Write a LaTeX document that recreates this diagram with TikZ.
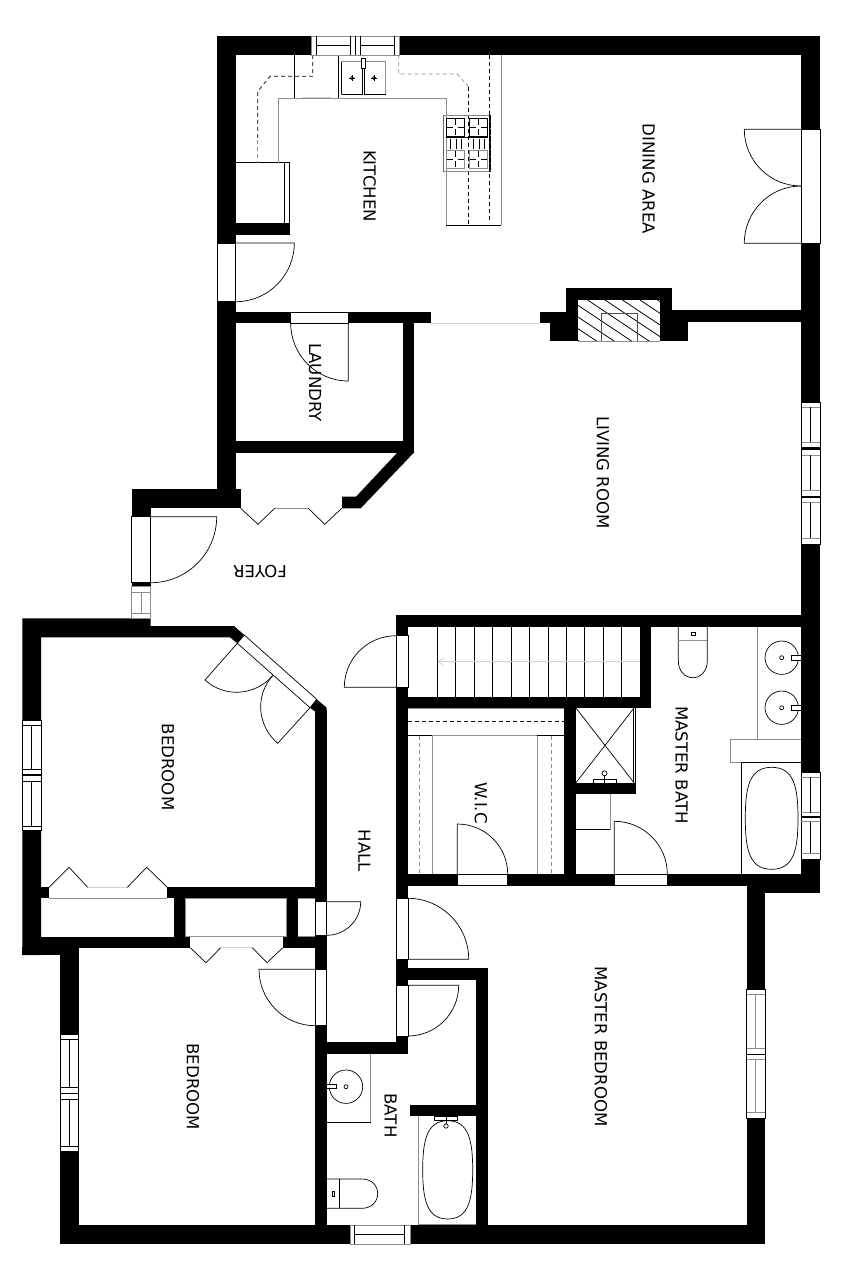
\documentclass[tikz,border=0pt]{standalone}
\usepackage{fontspec}
\setmainfont{DejaVu Sans}
\usetikzlibrary{arrows.meta}
\tikzset{
  lbl/.style={font=\fontsize{16.6}{16.6}\selectfont,inner sep=0pt,text=black},
  thin line/.style={draw=black,line width=0.7pt},
  grey line/.style={draw=black!45,line width=0.7pt},
  pale line/.style={draw=black!18,line width=0.7pt},
  opening/.style={fill=white,draw=black,line width=0.7pt},
  gap/.style={fill=white,draw=none},
  dash line/.style={draw=black,line width=0.7pt,dash pattern=on 4pt off 3pt},
  gdash line/.style={draw=black!45,line width=0.7pt,dash pattern=on 4pt off 3pt},
}
\newcommand\wl[4]{\fill[black] (#1,#2) rectangle (#3,#4);}
\newcommand\swing[6]{%
  \pgfmathsetmacro\ax{#3+0.5523*(#5-#1)}\pgfmathsetmacro\ay{#4+0.5523*(#6-#2)}%
  \pgfmathsetmacro\bx{#5+0.5523*(#3-#1)}\pgfmathsetmacro\by{#6+0.5523*(#4-#2)}%
  \draw[thin line] (#1,#2) -- (#3,#4) .. controls (\ax,\ay) and (\bx,\by) .. (#5,#6);}
\newcommand\tubshape[4]{%
  \pgfmathsetmacro\xm{(#1+#3)/2}\pgfmathsetmacro\ym{(#2+#4)/2}%
  \pgfmathsetmacro\xa{#3-4}\pgfmathsetmacro\xb{#1+4}\pgfmathsetmacro\ya{#2+20}\pgfmathsetmacro\yb{#4-20}%
  \draw[thin line] (\xm,#2) .. controls (\xa,#2) and (#3,\ya) .. (#3,\ym)
    .. controls (#3,\yb) and (\xa,#4) .. (\xm,#4)
    .. controls (\xb,#4) and (#1,\yb) .. (#1,\ym)
    .. controls (#1,\ya) and (\xb,#2) .. (\xm,#2);}
\newcommand\burner[3]{%
  \draw[#3] (#1,#2) rectangle ++(18.4,18);
  \draw[thin line] (#1+1,#2+9) -- ++(6,0) (#1+11.4,#2+9) -- ++(6,0)
    (#1+9.2,#2+1) -- ++(0,6) (#1+9.2,#2+11) -- ++(0,6);}
\begin{document}
\begin{tikzpicture}[x=1pt,y=-1pt]
\useasboundingbox (0,0) rectangle (853,1280);
\fill[white] (0,0) rectangle (853,1280);

% ---- outer and inner walls
\wl{217}{36}{820}{55}
\wl{217}{36}{235.7}{243}
\wl{235}{223.3}{290}{235}
\wl{217}{301.7}{235.7}{508.3}
\wl{235}{312}{431}{323.3}
\wl{403.3}{312}{414.3}{452.7}
\wl{235}{441}{414.3}{452.7}
\wl{131.7}{489.3}{240.7}{508.3}
\wl{131.7}{489.3}{150.7}{516.7}
\wl{131.7}{582.7}{150.7}{586.7}
\fill[black] (397.7,452.2) -- (414.3,452.2) -- (360.7,508.3) -- (341.7,508.3) -- (341.7,496.7) -- (356,496.7) -- cycle;
% right wall and fireplace
\wl{801}{36}{820}{893.3}
\wl{566}{287.7}{672}{300}
\wl{566}{287.7}{578}{341}
\wl{660}{287.7}{672}{341}
\wl{660}{310}{801.5}{321.7}
\wl{660}{321}{687.7}{341}
\wl{549.7}{323}{578}{341}
\wl{539.7}{312}{566}{323.3}
% bedroom 1
\fill[black] (22.3,618.3) -- (150.7,618.3) -- (150.7,626) -- (234,626) -- (244.3,635) -- (237.3,643.3) -- (230,637.3) -- (41,637.3) -- (41,955) -- (22.3,955) -- cycle;
\fill[black] (316.7,699.3) -- (326.7,707.7) -- (326.7,720) -- (315.3,720) -- (315.3,711.7) -- (310,707.7) -- cycle;
\wl{315.3}{710}{326.7}{1225.5}
\wl{41}{887.3}{49}{898.3}
\wl{167.3}{887.3}{326.7}{898.3}
\wl{174}{898}{185.7}{937}
\wl{286.7}{898}{298}{937}
\wl{41}{936.7}{190.3}{947.7}
\wl{282.7}{936.7}{326.7}{947.7}
\wl{22.3}{947}{78.7}{955}
\wl{60}{947}{78.7}{1244}
\wl{60}{1225}{765}{1244}
\wl{746.7}{885}{765}{1244}
\wl{746.7}{885}{820}{893.3}
% central walls
\wl{396}{615}{820}{626.7}
\wl{396}{615}{408}{1053.7}
\wl{396}{696.7}{651}{708}
\wl{640}{626}{651}{708}
\wl{396}{874}{820}{885.7}
\wl{564.3}{708}{576}{885}
\wl{576}{782.7}{636.3}{794}
\wl{408}{968.3}{487.7}{980}
\wl{476.3}{968.3}{487.7}{1244}
\wl{326.7}{1042.3}{408}{1053.7}
\wl{410}{1105}{487.7}{1116.3}

% ---- fireplace hatch
\begin{scope}
\clip (578,300) rectangle (660,341);
\foreach \k in {0,...,8} {
  \draw[thin line] (517.5+\k*17.5,300) -- ++(90,60);
}
\end{scope}
\draw[draw=black!70,line width=1pt] (601.7,341) -- (601.7,313.3) -- (637.7,313.3) -- (637.7,341);
\draw[grey line] (578,341) -- (660,341);

% ---- door and window openings
% kitchen side door
\draw[opening] (217,243) rectangle (235.7,301.7);
\swing{235.7}{243}{294.3}{243}{235.7}{301.7}
% kitchen opening to living
\fill[white] (431,312) rectangle (539.7,323.3);
\draw[pale line] (431,323.3) -- (539.7,323.3);
% laundry door
\draw[opening] (290.7,312) rectangle (348.3,323.3);
\swing{348.3}{323.3}{348.3}{381}{290.7}{323.3}
% foyer doors
\draw[opening] (131.7,516.7) rectangle (150.7,582.7);
\swing{150.7}{516.7}{216.7}{516.7}{150.7}{582.7}
\fill[white] (240.7,496.7) rectangle (341.7,508.3);
\draw[thin line] (240.7,508.3) -- (258,524.3) -- (274.7,508.3);
\draw[grey line] (274.7,508.3) -- (308.3,508.3);
\draw[thin line] (308.3,508.3) -- (324.7,524.3) -- (341.7,508.3);
% foyer side window
\draw[grey line,fill=white] (131.7,586.7) rectangle (150.7,618.3);
\draw[grey line] (131.7,592.3) -- (150.7,592.3) (131.7,613.3) -- (150.7,613.3) (141.3,592.3) -- (141.3,613.3);
% french door dining
\draw[opening] (801,129.3) rectangle (820,243.3);
\swing{801}{129.3}{744.3}{129.3}{801}{186}
\swing{801}{243.3}{744.3}{243.3}{801}{186}
% right windows
\draw[opening] (801.7,402) rectangle (820,544);
\wl{801.7}{447}{820}{449.5}
\wl{801.7}{495.5}{820}{498}
\draw[grey line] (801.7,407) -- (820,407) (801.7,442.3) -- (820,442.3) (801.7,455) -- (820,455) (801.7,490) -- (820,490) (801.7,502.7) -- (820,502.7) (801.7,538.3) -- (820,538.3);
\draw[thin line] (810.7,407) -- (810.7,442.3) (810.7,455) -- (810.7,490) (810.7,502.7) -- (810.7,538.3);
% master bath window
\draw[opening] (801,772.3) rectangle (820,859);
\wl{801}{815.7}{820}{817.7}
\draw[grey line] (801,777.3) -- (820,777.3) (801,812.7) -- (820,812.7) (801,821.7) -- (820,821.7) (801,853.3) -- (820,853.3);
\draw[thin line] (810.3,777.3) -- (810.3,812.7) (810.3,821.7) -- (810.3,853.3);
% master bedroom window
\draw[opening] (746.7,989) rectangle (765,1118);
\draw[grey line] (746.7,994) -- (765,994) (746.7,1048.3) -- (765,1048.3) (746.7,1059.3) -- (765,1059.3) (746.7,1112.7) -- (765,1112.7) (755.7,994) -- (755.7,1048.3) (755.7,1059.3) -- (755.7,1112.7);
\draw[draw=black,line width=1pt] (746.7,1054.3) -- (765,1054.3);
% bedroom 2 window
\draw[opening] (60,1034.3) rectangle (78.7,1151.7);
\draw[thin line] (60,1039.3) -- (78.7,1039.3) (60,1087.3) -- (78.7,1087.3) (60,1099.3) -- (78.7,1099.3) (60,1146.3) -- (78.7,1146.3) (69.3,1039.3) -- (69.3,1087.3) (69.3,1099.3) -- (69.3,1146.3);
\draw[draw=black,line width=1pt] (60,1093) -- (78.7,1093);
% bedroom 1 window
\draw[opening] (22.3,720) rectangle (41,830.7);
\draw[thin line] (22.3,725) -- (41,725) (22.3,769.3) -- (41,769.3) (22.3,781) -- (41,781) (22.3,826.7) -- (41,826.7) (31.7,725) -- (31.7,769.3) (31.7,781) -- (31.7,826.7);
\draw[draw=black,line width=1.2pt] (22.3,775) -- (41,775);
% bath window bottom
\draw[grey line,fill=white] (350,1225) rectangle (410,1244);
\draw[thin line] (354.7,1225) -- (354.7,1244) (404,1225) -- (404,1244) (354.7,1234) -- (404,1234);
% bedroom 1 diagonal double door
\draw[opening] (244.3,635) -- (316.7,699.3) -- (310,707.7) -- (237.3,643.3) -- cycle;
\swing{237.3}{643.3}{205}{680}{272.7}{675.7}
\swing{310}{707.7}{277.7}{743.3}{272.7}{675.7}
% bedroom 1 closet fold door
\fill[white] (49,887.3) rectangle (167.3,898.3);
\draw[grey line] (49,898.3) -- (167.3,898.3);
\draw[thin line] (49,887.3) -- (69,867.3) -- (87.7,887.3);
\draw[pale line] (87.7,887.3) -- (127.3,887.3);
\draw[thin line] (127.3,887.3) -- (146.7,867.3) -- (167.3,887.3);
% bedroom 2 closet fold door
\fill[white] (190.3,936.7) rectangle (282.7,947.7);
\draw[grey line] (190.3,936.7) -- (282.7,936.7);
\draw[thin line] (190.3,947.7) -- (206,962.7) -- (220.7,947.7);
\draw[pale line] (220.7,947.7) -- (252.3,947.7);
\draw[thin line] (252.3,947.7) -- (267,962.7) -- (282.7,947.7);
\draw[grey line] (185.7,898.3) rectangle (286.7,936.7);
\draw[grey line] (298,898.3) -- (315.3,898.3) (298,936.7) -- (315.3,936.7);
% hall doors
\draw[opening] (315.3,901.7) rectangle (326.7,935.3);
\swing{326.7}{901.7}{360.7}{901.7}{326.7}{935.3}
\draw[opening] (315.3,969.3) rectangle (326.7,1025.7);
\swing{315.3}{969.3}{259}{969.3}{315.3}{1025.7}
\draw[opening] (396,635.7) rectangle (408,687.3);
\swing{396}{687.3}{344.3}{687.3}{396}{635.7}
\draw[opening] (396.7,898.3) rectangle (408,959.3);
\swing{408}{959.3}{468.7}{959.3}{408}{898.3}
\draw[opening] (396.7,985.3) rectangle (408,1036);
\swing{408}{985.3}{458.7}{985.3}{408}{1036}
% WIC and master bath doors
\draw[opening] (457.3,874) rectangle (507.7,885.7);
\swing{457.3}{874}{457.3}{824}{507.7}{874}
\draw[opening] (614.3,874) rectangle (667.3,885.7);
\swing{614.3}{874}{614.3}{821.3}{667.3}{874}

% ---- kitchen fittings
\draw[grey line] (235.7,162.7) -- (278.3,162.7);
\draw[thin line] (284,162.7) rectangle (289,223.3);
\draw[thin line] (235.7,162.7) -- (284,162.7);
\draw[grey line] (278.3,162.7) -- (278.3,98.3) -- (446,98.3);
\draw[grey line] (446,98.3) -- (446,225.3);
\draw[thin line] (446,225.3) -- (501,225.3);
\draw[grey line] (501,225.3) -- (501,55);
\draw[thin line] (294.3,55) -- (294.3,98.3) (338.3,55) -- (338.3,98.3);
\draw[pale line] (302,97.5) -- (331,97.5);
\draw[grey line] (341.7,61.7) rectangle (362.3,94.3);
\draw[grey line] (364.3,61.7) rectangle (385.7,94.3);
\draw[thin line] (341.7,94.3) -- (362.3,94.3) -- (362.3,61.7) (341.7,61.7) -- (341.7,94.3) (364.3,61.7) -- (364.3,94.3) -- (385.7,94.3);
\draw[thin line,fill=white] (361.6,58) rectangle (365.7,68.7);
\foreach \dx in {352,374} {
  \draw[thin line] (\dx,78) circle (1.6);
  \draw[draw=black,line width=0.5pt] (\dx-2.6,78) -- (\dx+2.6,78) (\dx,75.4) -- (\dx,80.6);
}
\draw[dash line] (312.7,55) -- (312.7,76.3) -- (270,76.3) -- (257.7,91.5) -- (257.7,140);
\draw[gdash line] (257.7,140) -- (257.7,163);
\draw[gdash line] (398.7,55) -- (398.7,74) -- (457.3,74) -- (468.3,86.5);
\draw[dash line] (468.3,86.5) -- (468.3,225.3);
\draw[dash line] (489.5,55) -- (489.5,222);
% windows kitchen top
\draw[grey line,fill=white] (311.5,36) rectangle (399.3,55);
\draw[thin line] (316.7,36) -- (316.7,55) (350,36) -- (350,55) (355.3,36) -- (355.3,55) (360,36) -- (360,55) (394,36) -- (394,55) (316.7,45.7) -- (350,45.7) (360,45.7) -- (394,45.7);
% range
\draw[grey line] (443.7,115.3) rectangle (490,171.7);
\draw[draw=black!60,line width=1.5pt] (443.7,115.3) -- (443.7,171.7);
\draw[draw=black,line width=1.2pt,dash pattern=on 6pt off 1pt] (490,115.3) -- (490,171.7);
\burner{446.3}{118.3}{thin line}
\burner{469.3}{118.3}{thin line}
\burner{446.3}{150}{grey line}
\burner{469.3}{150}{grey line}
\draw[thin line] (446.3,137) -- (487.7,137)
  (450,139) -- (450,149) (456,139) -- (456,149) (461,139) -- (461,149)
  (473,139) -- (473,149) (479,139) -- (479,149) (484,139) -- (484,149);

% ---- stairs
\foreach \sx in {437.3,455.7,474.3,492.3,511,529.3,548,566.7,584.3,603.3,621.7} {
  \draw[thin line] (\sx,626.7) -- (\sx,696.7);
}
\draw[pale line,-{Straight Barb[length=6pt,width=8pt]}] (640,661.7) -- (437.5,661.7);

% ---- walk-in closet
\draw[grey line] (408,708) -- (564.3,708);
\draw[thin line] (408,735.7) -- (432.3,735.7);
\draw[grey line] (432.3,735.7) -- (537.3,735.7);
\draw[thin line] (537.3,735.7) -- (564.3,735.7) -- (564.3,708);
\draw[dash line] (408,721.3) -- (564.3,721.3);
\draw[grey line] (432.3,735.7) -- (432.3,874) (537.3,735.7) -- (537.3,874);
\draw[gdash line] (419.3,735.7) -- (419.3,874);
\draw[gdash line] (551.3,735.7) -- (551.3,874);

% ---- master bath
\draw[thin line] (576,708) -- (634,782.7) (634,708) -- (576,782.7);
\draw[thin line] (633.7,708) -- (633.7,782.7) (635.7,708) -- (635.7,782.7);
\draw[thin line] (593.7,782.7) -- (593.7,779.3) -- (616.7,779.3) -- (616.7,782.7);
\draw[thin line,fill=white] (604.5,773.3) circle (2.5);
\draw[thin line] (604.5,776) -- (604.5,782.7);
\draw[grey line] (576,829.3) -- (610.3,829.3) -- (610.3,794);
\draw[thin line] (576,829.3) -- (610,829.3);
% toilet
\draw[thin line] (678.3,626.7) -- (678.3,661) .. controls (678.3,671) and (685,677.7) .. (692.8,677.7) .. controls (700.6,677.7) and (707.3,671) .. (707.3,661) -- (707.3,626.7);
\draw[grey line] (678.3,640) -- (707.3,640);
\draw[thin line] (691.7,632) rectangle (695,635);
% vanity
\draw[grey line] (757.3,626.7) -- (757.3,739);
\draw[thin line] (781.7,657.7) circle (16.7) (781.7,707.7) circle (16.7);
\draw[thin line] (781.7,657.7) circle (2) (781.7,707.7) circle (2);
\draw[thin line,fill=white] (791.7,655.7) rectangle (801,660.3);
\draw[thin line,fill=white] (791.7,705.7) rectangle (801,710.3);
\draw[grey line] (801,739) -- (730.3,739) -- (730.3,762.3) -- (801,762.3);
% tub
\draw[thin line] (801,762.3) -- (741.3,762.3) -- (741.3,874);
\tubshape{745.3}{767.3}{798}{869.3}

% ---- bath
\draw[grey line] (370.7,1053.7) -- (370.7,1122.7);
\draw[thin line] (326.7,1122.7) -- (370.7,1122.7);
\draw[thin line] (346,1086.7) circle (16.7) (346,1086.7) circle (2);
\draw[thin line,fill=white] (326.7,1084.7) rectangle (336.7,1088.7);
\draw[thin line] (326.7,1179) -- (362,1179) .. controls (372,1179) and (377.7,1186) .. (377.7,1193.7) .. controls (377.7,1201) and (372,1208.3) .. (362,1208.3) -- (326.7,1208.3);
\draw[thin line] (339.3,1179) -- (339.3,1208.3);
\draw[thin line] (332.3,1191) rectangle (334.7,1196);
\draw[grey line] (418.3,1116.3) -- (418.3,1224.3) -- (476.3,1224.3);
\tubshape{422.7}{1120.7}{472.7}{1219}
\draw[thin line,fill=white] (434.7,1116.3) rectangle (457.7,1120.7);
\draw[thin line] (446,1116.3) -- (446,1124);
\draw[thin line,fill=white] (446,1126) circle (2.2);

% ---- labels
\node[lbl,rotate=-90] (kitchen) at (369.7,186) {KITCHEN};
\node[lbl,rotate=-90] (dining) at (648.7,179) {DINING AREA};
\node[lbl,rotate=-90] (laundry) at (315,382.5) {LAUNDRY};
\node[lbl,rotate=-90] (living) at (603,472.5) {LIVING ROOM};
\node[lbl,rotate=180] (foyer) at (260,571.5) {FOYER};
\node[lbl,rotate=-90] (bedone) at (168,767) {BEDROOM};
\node[lbl,rotate=-90] (hall) at (364.5,851) {HALL};
\node[lbl,rotate=-90] (wic) at (480.8,803) {W.I.C};
\node[lbl,rotate=-90] (mbath) at (681.7,765) {MASTER BATH};
\node[lbl,rotate=-90] (bedtwo) at (193,1086.7) {BEDROOM};
\node[lbl,rotate=-90] (bath) at (390.7,1115.5) {BATH};
\node[lbl,rotate=-90] (mbed) at (601,1046.5) {MASTER BEDROOM};
\end{tikzpicture}
\end{document}
